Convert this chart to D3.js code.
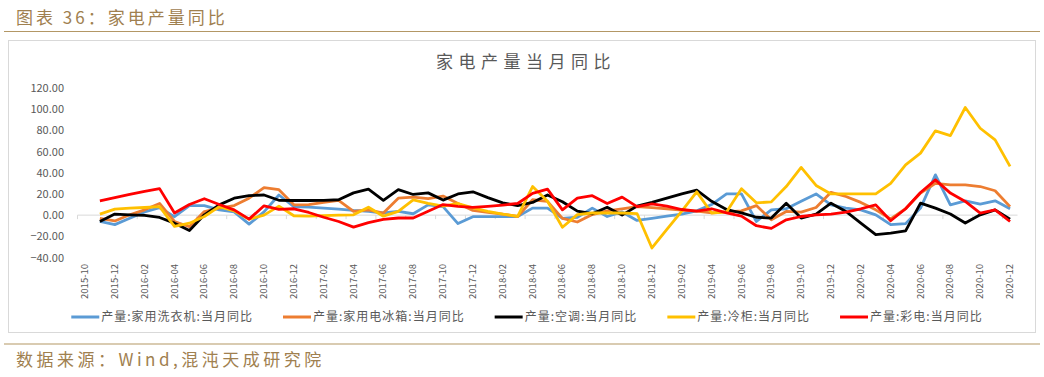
<!DOCTYPE html>
<html>
<head>
<meta charset="utf-8">
<script src="https://cdn.jsdelivr.net/npm/d3@7"></script>
<style>
body { margin: 0; background: #fff; }
svg text { font-family: "Noto Sans CJK SC", "Noto Sans", sans-serif; }
</style>
</head>
<body>
<svg id="drawing_region"></svg>
<script>
const months = [
    '2015-10','2015-11','2015-12',
    '2016-01','2016-02','2016-03','2016-04','2016-05','2016-06','2016-07','2016-08','2016-09','2016-10','2016-11','2016-12',
    '2017-01','2017-02','2017-03','2017-04','2017-05','2017-06','2017-07','2017-08','2017-09','2017-10','2017-11','2017-12',
    '2018-01','2018-02','2018-03','2018-04','2018-05','2018-06','2018-07','2018-08','2018-09','2018-10','2018-11','2018-12',
    '2019-01','2019-02','2019-03','2019-04','2019-05','2019-06','2019-07','2019-08','2019-09','2019-10','2019-11','2019-12',
    '2020-01','2020-02','2020-03','2020-04','2020-05','2020-06','2020-07','2020-08','2020-09','2020-10','2020-11','2020-12'
];

// 当月同比 (%), first month has no value
const washer = [null,
    -6, -9, -3, 3, 7, -1.5, 9, 9, 5, 3, -8.5, 3, 19, 8, 7.5, 6.6, 5.7, 4.4, 3.5, 2,
    3.5, 1.3, 9.7, 8, -8, -1.5, -1.5, -1.5, -1.3, 6.6, 6.6, -3, -2, 6.6, -1.3, 3, -5, -3, -1, 1,
    4, 10, 20, 20, -6, 5, 6, 13, 20, 9.7, 6.6, 5, 0.3, -9, -8, 6.6, 38, 9.7, 13.5, 10.4,
    13.5, 6];
const fridge = [null,
    -3, -5.5, 0.3, 5, 11, -6, -11, 3.4, 6.6, 9, 16, 26, 24, 9.7, 10, 12, 14, 3.5, 5, 2,
    16, 17, 15.5, 18, 11, 4.5, 2.5, 1, -1.3, 14.5, 13, -3, -6.5, 0.5, 4, 6, 8, 7, 6, 4.7,
    3.8, 2.2, 3, 4, 9, -4.4, 3.5, 2.8, 7.2, 21.5, 17.6, 12, 5, -3.5, 6, 20.8, 30, 28.6, 28.6, 27,
    23, 8];
const aircon = [null,
    -6, 1, 0.3, -0.3, -2.2, -7.6, -14.5, 0.3, 9.7, 16, 18.5, 19, 14, 13.8, 13.8, 14, 14.5, 21, 24.5, 14,
    24, 19.5, 21, 14.2, 20, 22, 16.5, 11.5, 9, 12, 19, 12.6, 3.8, 1.3, 7.5, 0, 8.5, 12, 16, 20,
    23.5, 13, 5.3, 2.2, -2, -2.8, 11.3, -2.8, 1, 11.3, 3.5, -7.5, -18.5, -17, -14.8, 11.3, 6.6, 1, -7.5, 0.3,
    5, -3.8];
const freezer = [null,
    1, 5.6, 6.6, 7.2, 8.1, -10.7, -7.6, -1.3, 8, 4, -3.8, 0, 8.5, -0.6, -1, -0.5, 0, 0.3, 7.5, -1,
    3.6, 14.3, 11, 8.6, 11, 6.8, 3.6, 1, -1.2, 27, 13, -11.5, 0.5, 2, 2, 2, 1.5, -31, -13.5, 3.8,
    22, 2, 3, 25, 11.6, 12.5, 27, 45, 28, 20, 20, 20, 20, 30, 47.5, 58.5, 79.6, 75, 101.6, 82,
    71, 46];
const colortv = [null,
    13.5, 16.5, 19.5, 22.5, 25, 2, 10, 15.5, 10, 5, -3.8, 8.8, 5.5, 6, 2.5, -2, -6, -11.3, -7, -4,
    -2.7, -2.7, 3.6, 10, 8.3, 7.3, 8.3, 9.5, 11, 20.5, 24.5, 5, 16, 18.3, 11, 17, 8, 10.7, 8.5, 5.3,
    3.8, 6, 2.2, -1, -10, -12.5, -4.4, -1.3, 0.3, 1, 2.8, 6, 9.7, -5.3, 6, 21.4, 33.3, 20.8, 12.9, 1.9,
    5, -6];

const seriesNames = ['产量:家用洗衣机:当月同比', '产量:家用电冰箱:当月同比', '产量:空调:当月同比', '产量:冷柜:当月同比', '产量:彩电:当月同比'];
const seriesColors = ['#5b9bd5', '#ed7d31', '#000000', '#ffc000', '#ff0000'];
const yTicks = [-40, -20, 0, 20, 40, 60, 80, 100, 120];
const xTickLabels = months.filter((d, i) => i % 2 === 0);

const chartTitle = '家电产量当月同比';
const headerText = '图表 36：家电产量同比';
const sourceText = '数据来源：Wind,混沌天成研究院';

class LineChart {

    constructor( config, data ) {
        this.config = config;
        this.data = data;
        this.init();
    }

    init() {
        let self = this;

        self.svg = d3.select( self.config.parent )
            .attr('width', self.config.width)
            .attr('height', self.config.height);

        // report header and footer
        self.svg.append('text')
            .attr('x', 16).attr('y', 24)
            .attr('fill', '#a0804f')
            .attr('font-size', '17px')
            .attr('letter-spacing', '3px')
            .text(headerText);
        self.svg.append('line')
            .attr('x1', 4).attr('x2', 1040)
            .attr('y1', 31.5).attr('y2', 31.5)
            .attr('stroke', '#b39765').attr('stroke-width', 1.2);
        self.svg.append('line')
            .attr('x1', 4).attr('x2', 1040)
            .attr('y1', 344).attr('y2', 344)
            .attr('stroke', '#b39765').attr('stroke-width', 1.2);
        self.svg.append('text')
            .attr('x', 16).attr('y', 366)
            .attr('fill', '#a0804f')
            .attr('font-size', '17px')
            .attr('letter-spacing', '3.5px')
            .text(sourceText);

        // chart frame
        self.svg.append('rect')
            .attr('x', 8.5).attr('y', 40.5)
            .attr('width', 1027).attr('height', 292)
            .attr('fill', 'none')
            .attr('stroke', '#d9d9d9');

        self.svg.append('text')
            .attr('x', 526).attr('y', 68)
            .attr('text-anchor', 'middle')
            .attr('fill', '#595959')
            .attr('font-size', '17px')
            .attr('letter-spacing', '5.5px')
            .text(chartTitle);

        self.xscale = d3.scaleBand()
            .domain(months)
            .range([77.5, 1017.5]);

        self.yscale = d3.scaleLinear()
            .domain([-40, 120])
            .range([257.5, 88]);

        self.yaxis = d3.axisLeft( self.yscale )
            .tickValues(yTicks)
            .tickFormat(d3.format('.2f'))
            .tickSize(0)
            .tickPadding(2);

        self.xaxis = d3.axisBottom( self.xscale )
            .tickValues(xTickLabels)
            .tickSize(0)
            .tickPadding(0);

        self.yaxis_group = self.svg.append('g')
            .attr('transform', 'translate(66, 0)');
        self.xaxis_group = self.svg.append('g')
            .attr('transform', 'translate(0, 264)');
        self.zero_group = self.svg.append('g');
        self.chart = self.svg.append('g');
        self.legend = self.svg.append('g');
    }

    render() {
        let self = this;
        const half = self.xscale.bandwidth() / 2;

        self.yaxis_group.call( self.yaxis );
        self.yaxis_group.select('.domain').remove();
        self.yaxis_group.selectAll('text')
            .attr('fill', '#595959')
            .attr('font-size', '11px')
            .attr('font-family', '"Noto Sans CJK SC", sans-serif');

        self.xaxis_group.call( self.xaxis );
        self.xaxis_group.select('.domain').remove();
        self.xaxis_group.selectAll('text')
            .attr('fill', '#595959')
            .attr('font-size', '9.5px')
            .attr('font-family', '"Noto Sans CJK SC", sans-serif')
            .attr('text-anchor', 'end')
            .attr('dy', '0.32em')
            .attr('transform', 'rotate(-90)')
            .attr('x', 0).attr('y', 0);

        // zero line with tick marks between categories
        const y0 = self.yscale(0);
        self.zero_group.append('line')
            .attr('x1', self.xscale.range()[0]).attr('x2', self.xscale.range()[1])
            .attr('y1', y0).attr('y2', y0)
            .attr('stroke', '#d9d9d9');
        self.zero_group.selectAll('line.tick')
            .data(xTickLabels)
            .join('line')
            .attr('class', 'tick')
            .attr('x1', d => self.xscale(d)).attr('x2', d => self.xscale(d))
            .attr('y1', y0).attr('y2', y0 + 4)
            .attr('stroke', '#d9d9d9');

        const line = d3.line()
            .defined(d => d.v !== null)
            .x(d => self.xscale(d.m) + half)
            .y(d => self.yscale(d.v));

        self.chart.selectAll('path')
            .data(self.data)
            .join('path')
            .attr('d', s => line(s.values.map((v, i) => ({ m: months[i], v: v }))))
            .attr('fill', 'none')
            .attr('stroke', s => s.color)
            .attr('stroke-width', 2.8)
            .attr('stroke-linejoin', 'round');

        // legend, centred under the plot
        const items = self.legend.selectAll('g')
            .data(self.data)
            .join('g');
        items.append('line')
            .attr('x1', 0).attr('x2', 28)
            .attr('y1', 0).attr('y2', 0)
            .attr('stroke', s => s.color)
            .attr('stroke-width', 3);
        items.append('text')
            .attr('x', 30).attr('y', 0)
            .attr('dy', '0.35em')
            .attr('fill', '#595959')
            .attr('font-size', '12px')
            .attr('letter-spacing', '1px')
            .text(s => s.name);

        let widths = [];
        items.each(function() { widths.push(30 + d3.select(this).select('text').node().getComputedTextLength()); });
        const gap = 30;
        const total = d3.sum(widths) + gap * (widths.length - 1);
        let x = 527 - total / 2;
        items.each(function(s, i) {
            d3.select(this).attr('transform', `translate(${x}, 317)`);
            x += widths[i] + gap;
        });
    }
}

const data = [washer, fridge, aircon, freezer, colortv].map((values, i) => ({
    name: seriesNames[i], color: seriesColors[i], values: values
}));

const line_chart = new LineChart({ parent: '#drawing_region', width: 1044, height: 377 }, data);
line_chart.render();
</script>
</body>
</html>
